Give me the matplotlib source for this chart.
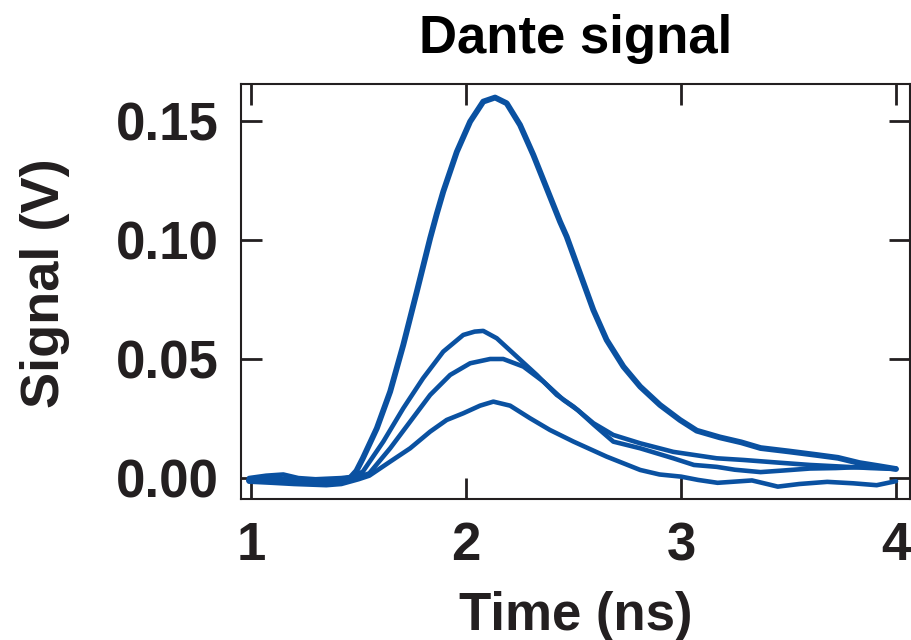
import matplotlib
matplotlib.use('Agg')
import matplotlib.pyplot as plt

plt.rcParams['font.family'] = ['Liberation Sans', 'DejaVu Sans']
plt.rcParams['font.weight'] = 'bold'

# time (ns) / signal (V), one set per shot
t_a = [0.99, 1.1, 1.2, 1.3, 1.4, 1.46, 1.49, 1.52, 1.585, 1.647, 1.708, 1.771, 1.833,
       1.864, 1.894, 1.957, 2.019, 2.08, 2.135, 2.189, 2.251, 2.313, 2.375, 2.437,
       2.468, 2.53, 2.592, 2.654, 2.732, 2.81, 2.902, 2.995, 3.073, 3.18, 3.28, 3.37,
       3.50, 3.63, 3.73, 3.83, 3.92, 4.0]
v_a = [-0.001, 0.0, -0.001, -0.0015, -0.001, 0.0, 0.003, 0.0083, 0.0209, 0.0363,
       0.0559, 0.0783, 0.1007, 0.1110, 0.1203, 0.137, 0.1497, 0.1581, 0.1598, 0.1574,
       0.1483, 0.1357, 0.1217, 0.1077, 0.1014, 0.086, 0.0706, 0.058, 0.0468, 0.0384,
       0.0307, 0.0244, 0.0199, 0.0171, 0.015, 0.0126, 0.0112, 0.0097, 0.0085, 0.0063,
       0.005, 0.0038]

t_b = [0.99, 1.07, 1.15, 1.22, 1.3, 1.42, 1.47, 1.52, 1.615, 1.708, 1.80, 1.894,
       1.987, 2.04, 2.08, 2.143, 2.236, 2.329, 2.422, 2.5, 2.593, 2.685, 2.81, 2.964,
       3.166, 3.29, 3.45, 3.60, 3.75, 3.88, 4.0]
v_b = [0.0, 0.001, 0.0015, 0.0, -0.0005, 0.0, 0.0005, 0.0027, 0.0153, 0.0293, 0.0419,
       0.0531, 0.0601, 0.0615, 0.0618, 0.0587, 0.051, 0.0433, 0.0349, 0.030, 0.023,
       0.0181, 0.0146, 0.011, 0.0083, 0.0076, 0.0065, 0.0055, 0.0048, 0.0042, 0.0038]

t_c = [0.99, 1.15, 1.3, 1.4, 1.47, 1.55, 1.647, 1.74, 1.833, 1.926, 2.019, 2.112,
       2.173, 2.267, 2.36, 2.453, 2.52, 2.593, 2.685, 2.81, 2.964, 3.06, 3.166, 3.25,
       3.37, 3.48, 3.60, 3.72, 3.83, 3.92, 4.0]
v_c = [-0.001, -0.0015, -0.002, -0.002, -0.0005, 0.002, 0.0125, 0.0237, 0.0349,
       0.0433, 0.0482, 0.050, 0.050, 0.0468, 0.0405, 0.0328, 0.0285, 0.0225, 0.0153,
       0.0125, 0.0083, 0.0055, 0.0047, 0.0035, 0.0025, 0.0032, 0.0040, 0.0042, 0.0046,
       0.0043, 0.0040]

t_d = [0.99, 1.1, 1.2, 1.35, 1.42, 1.5, 1.55, 1.647, 1.74, 1.833, 1.91, 1.987, 2.065,
       2.127, 2.205, 2.298, 2.39, 2.5, 2.654, 2.81, 2.90, 3.0, 3.08, 3.17, 3.25, 3.33,
       3.40, 3.45, 3.55, 3.68, 3.80, 3.91, 4.0]
v_d = [-0.0015, -0.002, -0.0025, -0.003, -0.0025, -0.0005, 0.001, 0.0069, 0.0125,
       0.0195, 0.0244, 0.0272, 0.0304, 0.0321, 0.0304, 0.0251, 0.0202, 0.0153, 0.009,
       0.0034, 0.0015, 0.0006, -0.0008, -0.002, -0.0015, -0.001, -0.0025, -0.0036,
       -0.0025, -0.0016, -0.0022, -0.003, -0.0013]

x_ticks = [1, 2, 3, 4]
y_ticks = [0.00, 0.05, 0.10, 0.15]

blue = '#0a51a1'
ink = '#231f20'

fig = plt.figure(figsize=(9.11, 6.40), dpi=100)
ax = fig.add_axes([0.2645, 0.2203, 0.7344, 0.6485])

style = dict(color=blue, solid_capstyle='round', solid_joinstyle='round')
ax.plot(t_a, v_a, lw=4.2, **style)
ax.plot(t_b, v_b, lw=3.3, **style)
ax.plot(t_c, v_c, lw=3.3, **style)
ax.plot(t_d, v_d, lw=3.3, **style)

ax.set_xlim(0.953, 4.065)
ax.set_ylim(-0.0088, 0.1655)
ax.set_xticks(x_ticks)
ax.set_xticklabels([str(v) for v in x_ticks])
ax.set_yticks(y_ticks)
ax.set_yticklabels(['%.2f' % v for v in y_ticks])

ax.tick_params(direction='in', length=15, width=2, color=ink, pad=16,
               labelsize=38, labelcolor=ink, top=True, right=True)
for s in ax.spines.values():
    s.set_linewidth(1.5)
    s.set_color(ink)

ax.set_xlabel('Time (ns)', fontsize=38, fontweight='bold', color=ink, labelpad=14)
ax.set_ylabel('Signal (V)', fontsize=39, fontweight='bold', color=ink)
ax.yaxis.set_label_coords(-0.255, 0.52)
ax.set_title('Dante signal', fontsize=38, fontweight='bold', color='black', pad=22)

fig.savefig('out.png', dpi=100)
